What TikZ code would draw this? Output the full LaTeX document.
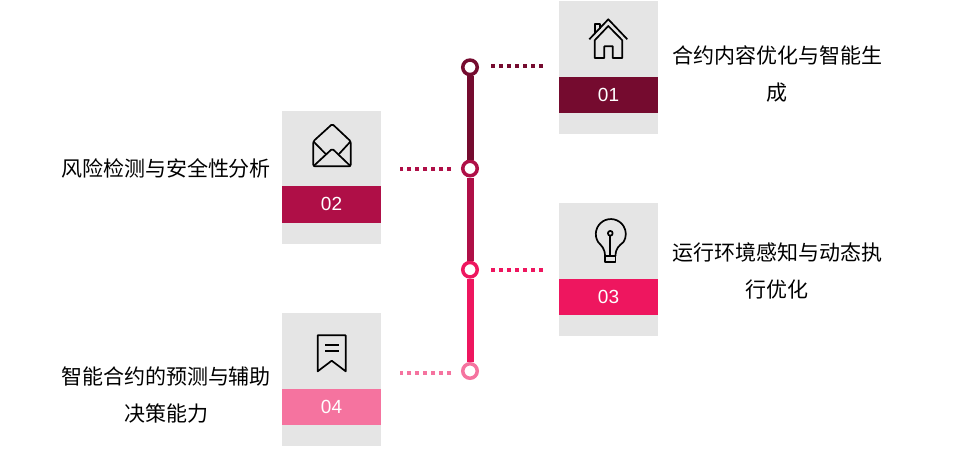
\documentclass[tikz,border=0pt]{standalone}
\usepackage{fontspec}
\usepackage{xcolor}
\newfontfamily\cjk{Noto Sans CJK SC}
\newfontfamily\numfont{Liberation Sans}
\definecolor{wine}{HTML}{750B2F}
\definecolor{berry}{HTML}{AF0F47}
\definecolor{rose}{HTML}{EE165F}
\definecolor{pinky}{HTML}{F5739F}
\definecolor{cardgray}{HTML}{E5E5E5}
\tikzset{
  card/.style={rectangle,fill=cardgray,minimum width=99,minimum height=133,inner sep=0pt},
  band/.style={rectangle,minimum width=99,minimum height=36.5,inner sep=0pt,text=white,text height=14,text depth=2,font=\numfont\fontsize{19}{19}\selectfont},
  ring/.style={circle,draw=#1,line width=3.5,fill=white,minimum size=14.5,inner sep=0pt},
  stem/.style={line width=7,draw=#1},
  link/.style={line width=4,draw=#1,dash pattern=on 4 off 4},
  label/.style={align=center,font=\cjk\fontsize{21}{37}\selectfont},
  icon/.style={line width=1.7,draw=black,line join=round}
}

\begin{document}
\begin{tikzpicture}[x=1pt,y=-1pt]
            \useasboundingbox (0,0) rectangle (975,456);

            \node (card1) at (608.5,67.5) [card] {};
            \node (card2) at (331.5,177.5) [card] {};
            \node (card3) at (608.5,269.5) [card] {};
            \node (card4) at (331.5,379.5) [card] {};

            \node (band1) at (608.5,95) [band,fill=wine] {01};
            \node (band2) at (331.5,204.5) [band,fill=berry] {02};
            \node (band3) at (608.5,297) [band,fill=rose] {03};
            \node (band4) at (331.5,407) [band,fill=pinky] {04};

            \node (ring1) at (470,67.3) [ring=wine] {};
            \node (ring2) at (470,168.5) [ring=berry] {};
            \node (ring3) at (470,269.7) [ring=rose] {};
            \node (ring4) at (470,371) [ring=pinky] {};

            \draw[stem=wine] (ring1) -- (ring2);
            \draw[stem=berry] (ring2) -- (ring3);
            \draw[stem=rose] (ring3) -- (ring4);

            \draw[link=wine,shorten <=12,shorten >=16] ([yshift=1.3]ring1.east) -- ([yshift=1.3]ring1.east -| card1.west);
            \draw[link=berry,shorten <=10,shorten >=19] ([yshift=-0.5]ring2.west) -- ([yshift=-0.5]ring2.west -| card2.east);
            \draw[link=rose,shorten <=12,shorten >=16] ([yshift=-0.3]ring3.east) -- ([yshift=-0.3]ring3.east -| card3.west);
            \draw[link=pinky,shorten <=10,shorten >=19] ([yshift=-2]ring4.west) -- ([yshift=-2]ring4.west -| card4.east);

            \node (text1) at (777,74.5) [label] {合约内容优化与智能生\\成};
            \node (text2) at (166,168) [label] {风险检测与安全性分析};
            \node (text3) at (777,271) [label] {运行环境感知与动态执\\行优化};
            \node (text4) at (166,395) [label] {智能合约的预测与辅助\\决策能力};

            % house
            \draw[icon] (589.3,39.3) -- (608.3,19.3) -- (627.3,39.3);
            \draw[icon] (594.7,40.3) -- (608.3,26) -- (622.3,40.3) -- (622.3,58) -- (612.7,58) -- (612.7,46.3) -- (604.3,46.3) -- (604.3,58) -- (594.7,58) -- cycle;
            \draw[icon] (594.7,34) -- (594.7,24.3) -- (600,24.3) -- (600,28.7);

            % envelope
            \draw[icon,rounded corners=1.5] (313.3,166.3) -- (313.3,141.3) -- (332.3,124) -- (350.7,141.3) -- (350.7,166.3) -- cycle;
            \draw[icon,rounded corners=1.5] (313.3,166.3) -- (332.3,148.7) -- (350.7,166.3);
            \draw[icon] (313.3,141.3) -- (325.7,154) (350.7,141.3) -- (339,154);

            % bulb
            \draw[icon] (605,256) .. controls (605,248) and (601,245.5) .. (598.1,242) arc (148:392:15) .. controls (619.5,245.5) and (615.5,248) .. (615.5,256);
            \draw[icon] (605,256) rectangle (615.5,262);
            \draw[icon] (610.3,233.3) circle (2.4);
            \draw[icon] (610.3,235.7) -- (610.3,256);

            % bookmark
            \draw[icon] (317.7,335.3) -- (345.7,335.3) -- (345.7,371.3) -- (331.7,360.7) -- (317.7,371.3) -- cycle;
            \draw[icon] (325,345.3) -- (339,345.3) (325,351.3) -- (339,351.3);

        \end{tikzpicture}
\end{document}
